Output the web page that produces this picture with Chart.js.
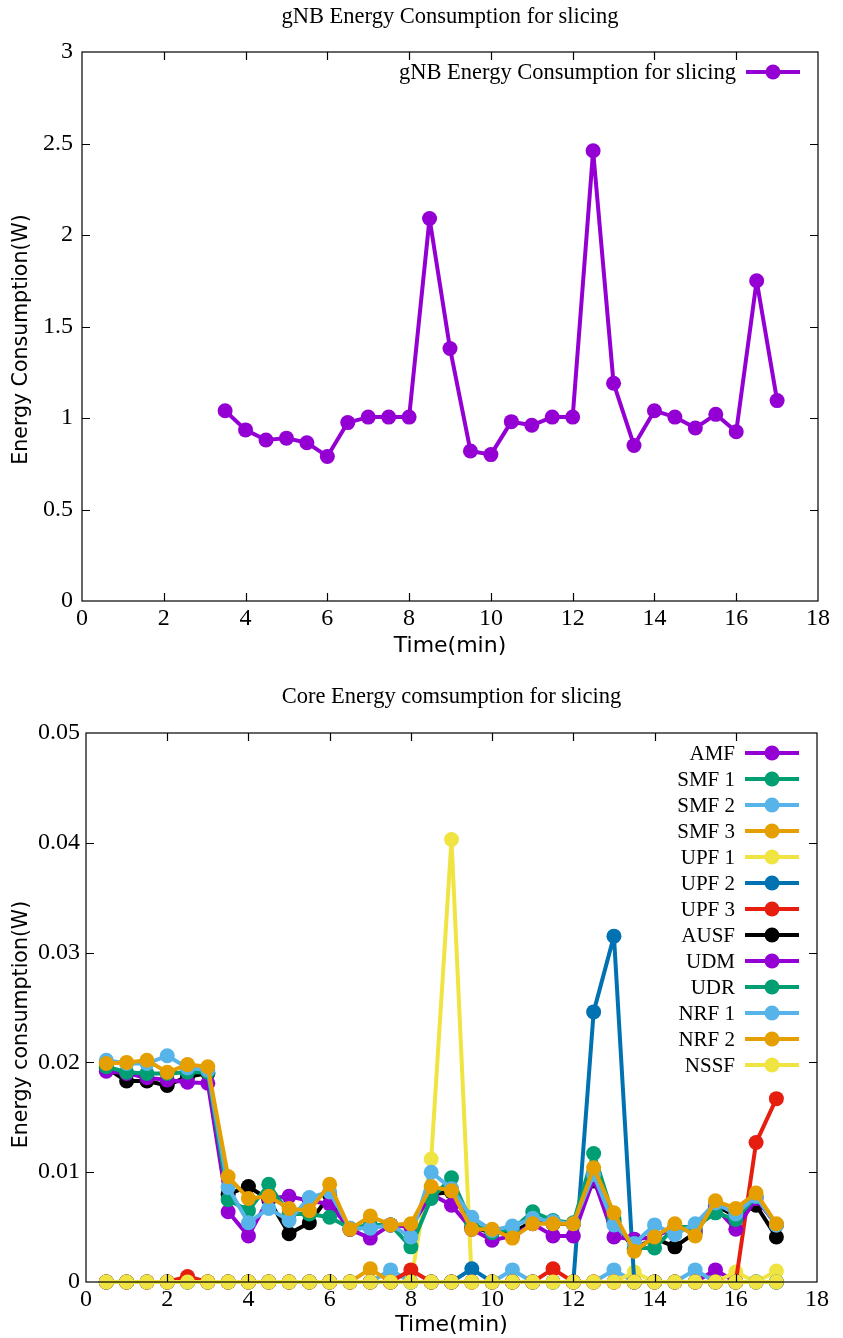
<!DOCTYPE html>
<html><head><meta charset="utf-8">
<script src="https://cdn.jsdelivr.net/npm/chart.js@4.4.1/dist/chart.umd.min.js"></script>
<style>
html,body{margin:0;padding:0;background:#fff;}
canvas{position:absolute;left:0;display:block;}
#c1{top:0;}
#c2{top:670px;}
</style></head><body>
<canvas id="c1" width="843" height="670"></canvas>
<canvas id="c2" width="843" height="668"></canvas>
<script>
// ---------- data: gNB ----------
const gnbTitle = 'gNB Energy Consumption for slicing';
const gnbTimes = [3.5,4,4.5,5,5.5,6,6.5,7,7.5,8,8.5,9,9.5,10,10.5,11,11.5,12,12.5,13,13.5,14,14.5,15,15.5,16,16.5,17];
const gnbPower = [1.04,0.935,0.88,0.89,0.865,0.79,0.975,1.005,1.005,1.005,2.09,1.38,0.82,0.80,0.98,0.96,1.005,1.005,2.46,1.19,0.85,1.04,1.005,0.945,1.02,0.925,1.75,1.095];
const gnbXTicks = [0,2,4,6,8,10,12,14,16,18];
const gnbYTicks = [0,0.5,1,1.5,2,2.5,3];

// ---------- data: core ----------
const coreTitle = 'Core Energy comsumption for slicing';
const coreTimes = [0.5,1,1.5,2,2.5,3,3.5,4,4.5,5,5.5,6,6.5,7,7.5,8,8.5,9,9.5,10,10.5,11,11.5,12,12.5,13,13.5,14,14.5,15,15.5,16,16.5,17];
const AMF  = [0,0,0,0,0,0,0,0,0,0,0,0,0,0,0,0,0,0,0,0,0,0,0,0,0,0,0,0,0,0,0.0011,0,0,0];
const SMF1 = [0,0,0,0,0,0,0,0,0,0,0,0,0,0,0,0,0,0,0,0,0,0,0,0,0,0,0,0,0,0,0,0,0,0];
const SMF2 = [0,0,0,0,0,0,0,0,0,0,0,0,0,0,0.0011,0,0,0,0,0,0.0011,0,0,0,0,0.0011,0,0,0,0.0011,0,0,0,0];
const SMF3 = [0,0,0,0,0,0,0,0,0,0,0,0,0,0.0012,0,0,0,0,0,0,0,0,0,0,0,0,0,0,0,0,0,0,0,0];
const UPF1 = [0,0,0,0,0,0,0,0,0,0,0,0,0,0,0,0,0.0112,0.0403,0,0,0,0,0,0,0,0,0.0009,0,0,0,0,0.0009,0,0.0010];
const UPF2 = [0,0,0,0,0,0,0,0,0,0,0,0,0,0,0,0,0,0,0.0012,0,0,0,0,0,0.0246,0.0315,0,0,0,0,0,0,0,0];
const UPF3 = [0,0,0,0,0.0005,0,0,0,0,0,0,0,0,0,0,0.0011,0,0,0,0,0,0,0.0012,0,0,0,0,0,0,0,0,0,0.0127,0.0167];
const AUSF = [0.0195,0.0183,0.0183,0.0179,0.0187,0.0190,0.0080,0.0087,0.0075,0.0044,0.0054,0.0079,0.0048,0.0050,0.0052,0.0052,0.0080,0.0082,0.0050,0.0045,0.0045,0.0055,0.0053,0.0053,0.0092,0.0055,0.0030,0.0040,0.0032,0.0045,0.0070,0.0060,0.0070,0.0041];
const UDM  = [0.0192,0.0190,0.0186,0.0184,0.0182,0.0181,0.0064,0.0042,0.0076,0.0078,0.0074,0.0071,0.0048,0.0040,0.0052,0.0050,0.0080,0.0070,0.0048,0.0038,0.0042,0.0053,0.0042,0.0042,0.0094,0.0041,0.0039,0.0041,0.0050,0.0048,0.0068,0.0048,0.0076,0.0052];
const UDR  = [0.0196,0.0191,0.0190,0.0190,0.0191,0.0191,0.0075,0.0065,0.0089,0.0062,0.0062,0.0059,0.0049,0.0052,0.0052,0.0032,0.0076,0.0095,0.0053,0.0045,0.0048,0.0064,0.0056,0.0054,0.0117,0.0058,0.0031,0.0031,0.0050,0.0050,0.0063,0.0057,0.0078,0.0052];
const NRF1 = [0.0202,0.0199,0.0199,0.0206,0.0195,0.0193,0.0086,0.0054,0.0067,0.0056,0.0077,0.0082,0.0049,0.0049,0.0052,0.0041,0.0100,0.0085,0.0059,0.0047,0.0051,0.0058,0.0055,0.0053,0.0098,0.0052,0.0035,0.0052,0.0043,0.0053,0.0072,0.0062,0.0078,0.0052];
const NRF2 = [0.0199,0.0200,0.0202,0.0191,0.0198,0.0196,0.0096,0.0076,0.0078,0.0067,0.0065,0.0089,0.0048,0.0060,0.0052,0.0053,0.0087,0.0083,0.0048,0.0048,0.0040,0.0053,0.0053,0.0053,0.0104,0.0063,0.0028,0.0041,0.0053,0.0042,0.0074,0.0067,0.0081,0.0053];
const NSSF = [0,0,0,0,0,0,0,0,0,0,0,0,0,0,0,0,0,0,0,0,0,0,0,0,0,0,0,0,0,0,0,0,0,0];
const coreNames  = ['AMF','SMF 1','SMF 2','SMF 3','UPF 1','UPF 2','UPF 3','AUSF','UDM','UDR','NRF 1','NRF 2','NSSF'];
const coreSeries = [AMF,SMF1,SMF2,SMF3,UPF1,UPF2,UPF3,AUSF,UDM,UDR,NRF1,NRF2,NSSF];
const coreXTicks = [0,2,4,6,8,10,12,14,16,18];
const coreYTicks = [0,0.01,0.02,0.03,0.04,0.05];

// ---------- styles ----------
const gnuPalette = {purple:'#9400d3', green:'#009e73', sky:'#56b4e9', orange:'#e69f00', yellow:'#f0e442', blue:'#0072b2', red:'#e51e10', black:'#000000'};
const coreColorKeys = ['purple','green','sky','orange','yellow','blue','red','black','purple','green','sky','orange','yellow'];
const SERIF = "'Liberation Serif', 'DejaVu Serif', serif";
const SANS = "'DejaVu Sans', 'Liberation Sans', sans-serif";

function toPoints(xs, ys){ return xs.map((x,i)=>({x:x, y:ys[i]})); }

// frame + inward ticks (gnuplot style)
const framePlugin = {
  id:'gnuFrame',
  afterDatasetsDraw(chart){
    const {ctx, chartArea:a, scales} = chart;
    const xs = scales.x, ys = scales.y, L = 8;
    ctx.save();
    ctx.strokeStyle = '#000'; ctx.lineWidth = 1.2;
    ctx.beginPath();
    xs.ticks.forEach(t=>{
      const p = Math.round(xs.getPixelForValue(t.value))+0.5;
      if (p <= a.left+1 || p >= a.right-1) return;
      ctx.moveTo(p, a.bottom); ctx.lineTo(p, a.bottom-L);
      ctx.moveTo(p, a.top); ctx.lineTo(p, a.top+L);
    });
    ys.ticks.forEach(t=>{
      const p = Math.round(ys.getPixelForValue(t.value))+0.5;
      if (p <= a.top+1 || p >= a.bottom-1) return;
      ctx.moveTo(a.left, p); ctx.lineTo(a.left+L, p);
      ctx.moveTo(a.right, p); ctx.lineTo(a.right-L, p);
    });
    ctx.stroke();
    ctx.strokeRect(a.left, a.top, a.right-a.left, a.bottom-a.top);
    ctx.restore();
  }
};

// gnuplot style key: right-aligned text, then line sample with a point
const keyPlugin = {
  id:'gnuKey',
  afterDraw(chart, args, opts){
    const {ctx, chartArea:a} = chart;
    const sampleRight = a.right - 18, sampleLen = 54, rowH = 26;
    let y = a.top + 20;
    ctx.save();
    ctx.font = opts.fontSize + 'px ' + SERIF;
    ctx.textAlign = 'right'; ctx.textBaseline = 'middle';
    chart.data.datasets.forEach(ds=>{
      ctx.fillStyle = '#000';
      ctx.fillText(ds.label, sampleRight - sampleLen - 10, y + 1);
      ctx.strokeStyle = ds.borderColor; ctx.lineWidth = ds.borderWidth;
      ctx.beginPath(); ctx.moveTo(sampleRight - sampleLen, y); ctx.lineTo(sampleRight, y); ctx.stroke();
      ctx.fillStyle = ds.pointBackgroundColor;
      ctx.beginPath(); ctx.arc(sampleRight - sampleLen/2, y, ds.pointRadius, 0, Math.PI*2); ctx.fill();
      y += rowH;
    });
    ctx.restore();
  }
};

// y-axis title, placed like gnuplot's (slightly below the centre of the plot)
const yTitlePlugin = {
  id:'gnuYTitle',
  afterDraw(chart, args, opts){
    const {ctx, chartArea:a} = chart;
    ctx.save();
    ctx.translate(opts.x, (a.top + a.bottom)/2 + opts.dy);
    ctx.rotate(-Math.PI/2);
    ctx.font = opts.fontSize + 'px ' + SANS;
    ctx.fillStyle = '#000';
    ctx.textAlign = 'center'; ctx.textBaseline = 'middle';
    ctx.fillText(opts.text, 0, 0);
    ctx.restore();
  }
};

function fmtTick(v){ return String(parseFloat(Number(v).toFixed(4))); }

function makeOptions(cfg){
  return {
    responsive:false, animation:false, devicePixelRatio:1,
    layout:{padding:{left:0, right:cfg.right, top:0, bottom:0}},
    plugins:{
      legend:{display:false}, tooltip:{enabled:false},
      title:{display:true, fullSize:false, text:cfg.title, color:'#000',
        font:{family:SERIF, size:22.5, weight:'normal', lineHeight:1.2},
        padding:{top:cfg.titleTop, bottom:cfg.titleBottom}},
      gnuKey:{fontSize:cfg.keyFont},
      gnuYTitle:{text:cfg.yTitle, x:22, dy:cfg.yTitleDy, fontSize:20.5}
    },
    scales:{
      x:{type:'linear', min:0, max:18,
        afterBuildTicks(s){ s.ticks = cfg.xTicks.map(v=>({value:v})); },
        ticks:{color:'#000', padding:3, font:{family:SERIF, size:24, lineHeight:1.2}, maxRotation:0, autoSkip:false, callback:fmtTick},
        grid:{display:false, drawTicks:false}, border:{display:false},
        title:{display:true, text:'Time(min)', color:'#000', font:{family:SANS, size:22, lineHeight:1.2}, padding:{top:0, bottom:cfg.xTitlePad}},
        afterFit(s){ s.height = cfg.xHeight; s.paddingLeft = 0; s.paddingRight = 0; }
      },
      y:{type:'linear', min:cfg.yMin, max:cfg.yMax,
        afterBuildTicks(s){ s.ticks = cfg.yTicks.map(v=>({value:v})); },
        ticks:{color:'#000', padding:cfg.yTickPad, font:{family:SERIF, size:24}, callback:fmtTick},
        grid:{display:false, drawTicks:false}, border:{display:false},
        title:{display:false},
        afterFit(s){ s.width = cfg.yWidth; s.paddingTop = 0; s.paddingBottom = 0; }
      }
    }
  };
}

function lineDs(label, data, color, order){
  return {label, data, borderColor:color, backgroundColor:color, pointBackgroundColor:color,
    pointBorderWidth:0, pointRadius:7.5, borderWidth:4, borderJoinStyle:'round', borderCapStyle:'round',
    tension:0, fill:false, clip:false, order};
}

new Chart(document.getElementById('c1'), {
  type:'line',
  data:{datasets:[lineDs(gnbTitle, toPoints(gnbTimes, gnbPower), gnuPalette.purple, 1)]},
  options:makeOptions({title:gnbTitle, right:25, titleTop:3.5, titleBottom:21.5, keyFont:22.5,
    xTicks:gnbXTicks, yTicks:gnbYTicks, yMin:0, yMax:3, xHeight:69, xTitlePad:11,
    yWidth:82, yTickPad:9, yTitle:'Energy Consumption(W)', yTitleDy:13}),
  plugins:[framePlugin, keyPlugin, yTitlePlugin]
});

new Chart(document.getElementById('c2'), {
  type:'line',
  data:{datasets:coreSeries.map((s,i)=>lineDs(coreNames[i], toPoints(coreTimes, s), gnuPalette[coreColorKeys[i]], coreSeries.length - i))},
  options:makeOptions({title:coreTitle, right:26, titleTop:13.5, titleBottom:22.5, keyFont:21,
    xTicks:coreXTicks, yTicks:coreYTicks, yMin:0, yMax:0.05, xHeight:56, xTitlePad:0,
    yWidth:86, yTickPad:6, yTitle:'Energy consumption(W)', yTitleDy:17}),
  plugins:[framePlugin, keyPlugin, yTitlePlugin]
});
</script>
</body></html>
